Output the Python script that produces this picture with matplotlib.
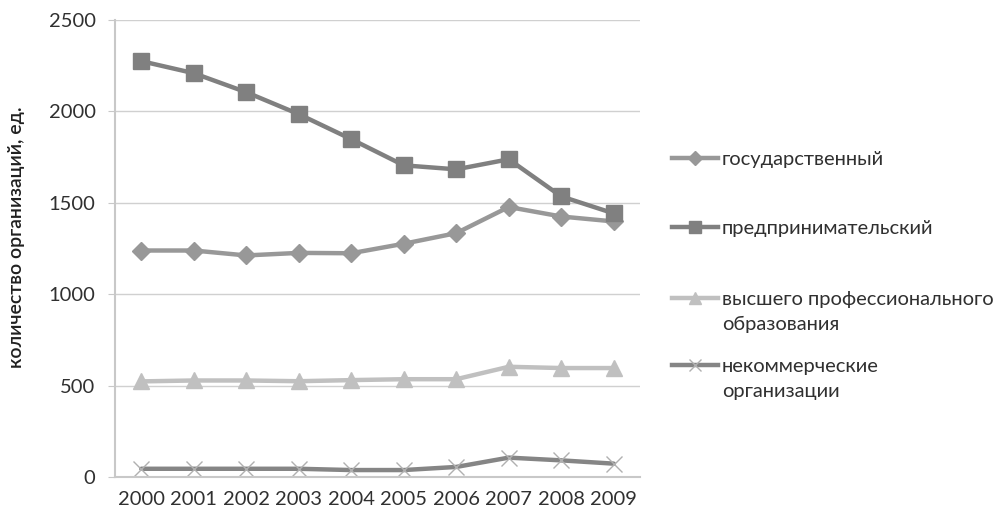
import matplotlib
matplotlib.use("Agg")
import matplotlib.pyplot as plt
from matplotlib.lines import Line2D

plt.rcParams['font.family'] = ['Lato', 'Noto Sans', 'DejaVu Sans']

# data
years = ['2000', '2001', '2002', '2003', '2004', '2005', '2006', '2007', '2008', '2009']
gos = [1239, 1239, 1212, 1226, 1224, 1276, 1334, 1477, 1425, 1398]
predpr = [2275, 2209, 2105, 1985, 1848, 1705, 1683, 1738, 1535, 1442]
vuz = [523, 528, 528, 524, 530, 535, 535, 603, 596, 596]
nko = [45, 45, 45, 45, 38, 38, 55, 106, 91, 73]

labels = [['государственный'], ['предпринимательский'],
          ['высшего профессионального', 'образования'], ['некоммерческие', 'организации']]

fig = plt.figure(figsize=(10.03, 5.24), dpi=100)
ax = fig.add_axes([115 / 1003, 47 / 524, 525 / 1003, 457 / 524])

x = list(range(len(years)))
styles = [
    dict(color='#989898', marker='D', markersize=9, mfc='#989898', mec='#989898'),
    dict(color='#808080', marker='s', markersize=11, mfc='#808080', mec='#808080'),
    dict(color='#c0c0c0', marker='^', markersize=11, mfc='#c0c0c0', mec='#c0c0c0'),
    dict(color='#858585', marker='x', markersize=11, mfc='none', mec='#b0b0b0', mew=1.0),
]
for ys, st in zip([gos, predpr, vuz, nko], styles):
    ax.plot(x, ys, lw=3.2, solid_capstyle='round', **st)

ax.set_xlim(-0.5, len(years) - 0.5)
ax.set_ylim(0, 2500)
ax.set_yticks(range(0, 2501, 500))
ax.set_xticks(x)
ax.set_xticklabels(years)
ax.grid(axis='y', color='#d0d0d0', lw=1)
ax.set_axisbelow(True)
for s in ['top', 'right']:
    ax.spines[s].set_visible(False)
ax.spines['left'].set_color('#c8c8c8')
ax.spines['bottom'].set_color('#c8c8c8')
ax.spines['left'].set_linewidth(1.5)
ax.spines['bottom'].set_linewidth(1.5)
ax.tick_params(axis='y', length=5, color='#c8c8c8', labelsize=14.5, labelcolor='#303030', pad=9)
ax.tick_params(axis='x', length=0, labelsize=14.5, labelcolor='#303030', pad=10)

fig.text(17 / 1003, 1 - 237 / 524, 'количество организаций, ед.', rotation=90,
         ha='center', va='center', fontsize=14, fontweight='semibold', color='#202020')

# legend drawn by hand to match entry positions
leg_y = [158, 227, 298, 365]
for lines, st, yy in zip(labels, styles, leg_y):
    fy = 1 - yy / 524
    fig.add_artist(Line2D([672 / 1003, 718 / 1003], [fy, fy], lw=3.2, color=st['color'],
                          transform=fig.transFigure))
    fig.add_artist(Line2D([695 / 1003], [fy], lw=0, marker=st['marker'],
                          markersize=st['markersize'] * 0.75, mfc=st['mfc'], mec=st['mec'],
                          mew=st.get('mew', 1.0), transform=fig.transFigure))
    for i, txt in enumerate(lines):
        fig.text(722 / 1003, 1 - (yy + 25 * i) / 524, txt, ha='left', va='center_baseline',
                 fontsize=14.5, color='#303030')

fig.savefig('out.png', dpi=100)
